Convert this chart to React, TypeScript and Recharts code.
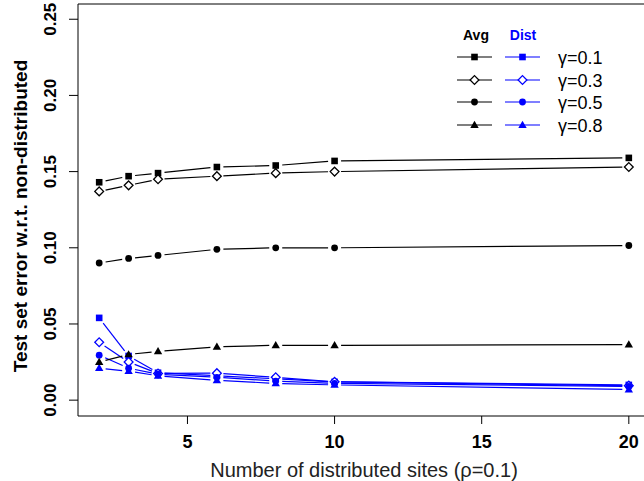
import { ReferenceLine, Scatter, ScatterChart, XAxis, YAxis } from 'recharts'

const sites = [2, 3, 4, 6, 8, 10, 20]
const gammaLabels = ['γ=0.1', 'γ=0.3', 'γ=0.5', 'γ=0.8']

// Avg (black)
const avg01 = [0.143, 0.147, 0.149, 0.153, 0.154, 0.157, 0.159]
const avg03 = [0.137, 0.141, 0.145, 0.147, 0.149, 0.150, 0.153]
const avg05 = [0.090, 0.093, 0.095, 0.099, 0.100, 0.100, 0.1015]
const avg08 = [0.025, 0.030, 0.032, 0.035, 0.036, 0.036, 0.0365]

// Dist (blue)
const dist01 = [0.054, 0.029, 0.018, 0.016, 0.014, 0.012, 0.010]
const dist03 = [0.038, 0.025, 0.0175, 0.0177, 0.015, 0.012, 0.0095]
const dist05 = [0.0295, 0.021, 0.017, 0.015, 0.0125, 0.011, 0.009]
const dist08 = [0.021, 0.019, 0.016, 0.013, 0.011, 0.010, 0.007]

const xTicks = [5, 10, 15, 20]
const yTicks = [0, 0.05, 0.1, 0.15, 0.2, 0.25]
const xDomain = [1.28, 20.72]
const yDomain = [-0.0104, 0.26]

const FONT = '"Liberation Sans", Arial, sans-serif'
const BLACK = '#000000'
const BLUE = '#0000ff'

type Kind = 'square' | 'diamond' | 'circle' | 'triangle'
const kinds: Kind[] = ['square', 'diamond', 'circle', 'triangle']

const toPoints = (vals: number[]) => sites.map((x, i) => ({ x, y: vals[i] }))

const series = [
  { key: 'd01', values: dist01, kind: kinds[0], color: BLUE },
  { key: 'd03', values: dist03, kind: kinds[1], color: BLUE },
  { key: 'd05', values: dist05, kind: kinds[2], color: BLUE },
  { key: 'd08', values: dist08, kind: kinds[3], color: BLUE },
  { key: 'a01', values: avg01, kind: kinds[0], color: BLACK },
  { key: 'a03', values: avg03, kind: kinds[1], color: BLACK },
  { key: 'a05', values: avg05, kind: kinds[2], color: BLACK },
  { key: 'a08', values: avg08, kind: kinds[3], color: BLACK },
]

function Marker({ kind, cx, cy, color }: { kind: Kind; cx: number; cy: number; color: string }) {
  if (kind === 'square') {
    return <rect x={cx - 3.3} y={cy - 3.3} width={6.6} height={6.6} fill={color} />
  }
  if (kind === 'diamond') {
    const r = 4.4
    return (
      <path
        d={`M${cx},${cy - r}L${cx + r},${cy}L${cx},${cy + r}L${cx - r},${cy}Z`}
        fill="#fff"
        stroke={color}
        strokeWidth={1.3}
      />
    )
  }
  if (kind === 'circle') {
    return <circle cx={cx} cy={cy} r={3.4} fill={color} />
  }
  return <path d={`M${cx},${cy - 4.3}L${cx + 4.2},${cy + 2.9}L${cx - 4.2},${cy + 2.9}Z`} fill={color} />
}

// R type="b": segments stop short of each point
const gappedLine = (color: string) => (props: any) => {
  const pts: { x: number; y: number }[] = props.points || []
  const gap = 6.5
  const segs = []
  for (let i = 0; i < pts.length - 1; i++) {
    const a = pts[i]
    const b = pts[i + 1]
    const dx = b.x - a.x
    const dy = b.y - a.y
    const len = Math.hypot(dx, dy)
    if (len <= gap * 2) continue
    const ux = dx / len
    const uy = dy / len
    segs.push(
      <line
        key={i}
        x1={a.x + ux * gap}
        y1={a.y + uy * gap}
        x2={b.x - ux * gap}
        y2={b.y - uy * gap}
        stroke={color}
        strokeWidth={1.2}
      />
    )
  }
  return <g>{segs}</g>
}

function YTick({ x, y, payload }: any) {
  return (
    <text
      x={x}
      y={y}
      transform={`rotate(-90, ${x}, ${y})`}
      textAnchor="middle"
      dominantBaseline="central"
      fontSize={17}
      fontWeight="bold"
      fontFamily={FONT}
      fill="#000"
    >
      {Number(payload.value).toFixed(2)}
    </text>
  )
}

function LegendBox() {
  const rows = [57, 80, 102, 125]
  return (
    <svg width={644} height={481} style={{ position: 'absolute', left: 0, top: 0, pointerEvents: 'none' }}>
      <text x={476} y={40} textAnchor="middle" fontSize={14} fontWeight="bold" fontFamily={FONT} fill={BLACK}>
        Avg
      </text>
      <text x={523} y={40} textAnchor="middle" fontSize={14} fontWeight="bold" fontFamily={FONT} fill={BLUE}>
        Dist
      </text>
      {gammaLabels.map((label, i) => (
        <g key={label}>
          <line x1={457} x2={492} y1={rows[i]} y2={rows[i]} stroke={BLACK} strokeWidth={1.2} />
          <Marker kind={kinds[i]} cx={474.5} cy={rows[i]} color={BLACK} />
          <line x1={505} x2={540} y1={rows[i]} y2={rows[i]} stroke={BLUE} strokeWidth={1.2} />
          <Marker kind={kinds[i]} cx={522.5} cy={rows[i]} color={BLUE} />
          <text x={558} y={rows[i] + 6.5} fontSize={18} fontFamily={FONT} fill="#000">
            {label}
          </text>
        </g>
      ))}
    </svg>
  )
}

export default function App() {
  return (
    <div style={{ position: 'absolute', left: 0, top: 0, width: 644, height: 481, overflow: 'hidden', background: '#fff' }}>
      <ScatterChart width={700} height={481} margin={{ top: 4, right: 50, bottom: 0, left: 0 }}>
        <XAxis
          type="number"
          dataKey="x"
          domain={xDomain}
          ticks={xTicks}
          interval={0}
          allowDataOverflow
          height={65}
          tickSize={8}
          tickMargin={11}
          axisLine={{ stroke: '#000' }}
          tickLine={{ stroke: '#000' }}
          tick={{ fontSize: 18, fontWeight: 'bold', fill: '#000', fontFamily: FONT }}
          label={{
            content: ({ viewBox }: any) => (
              <text
                x={viewBox.x + viewBox.width / 2}
                y={viewBox.y + 61}
                textAnchor="middle"
                fontSize={20}
                fontFamily={FONT}
                fill="#222"
              >
                Number of distributed sites (ρ=0.1)
              </text>
            ),
          }}
        />
        <YAxis
          type="number"
          dataKey="y"
          domain={yDomain}
          ticks={yTicks}
          interval={0}
          allowDataOverflow
          width={78}
          tickSize={9}
          tickMargin={18}
          axisLine={{ stroke: '#000' }}
          tickLine={{ stroke: '#000' }}
          tick={<YTick />}
          label={{
            content: ({ viewBox }: any) => {
              const cx = 20
              const cy = viewBox.y + viewBox.height / 2 + 6
              return (
                <text
                  x={cx}
                  y={cy}
                  transform={`rotate(-90, ${cx}, ${cy})`}
                  textAnchor="middle"
                  dominantBaseline="central"
                  fontSize={19}
                  fontWeight="bold"
                  fontFamily={FONT}
                  fill="#000"
                >
                  Test set error w.r.t. non-distributed
                </text>
              )
            },
          }}
        />
        <ReferenceLine y={yDomain[1]} stroke="#000" ifOverflow="visible" />
        <ReferenceLine x={xDomain[1]} stroke="#000" ifOverflow="visible" />
        {series.map((s) => (
          <Scatter
            key={s.key}
            data={toPoints(s.values)}
            isAnimationActive={false}
            fill={s.color}
            line={gappedLine(s.color)}
            lineType="joint"
            shape={(p: any) => <Marker kind={s.kind} cx={p.cx} cy={p.cy} color={s.color} />}
          />
        ))}
      </ScatterChart>
      <LegendBox />
    </div>
  )
}
